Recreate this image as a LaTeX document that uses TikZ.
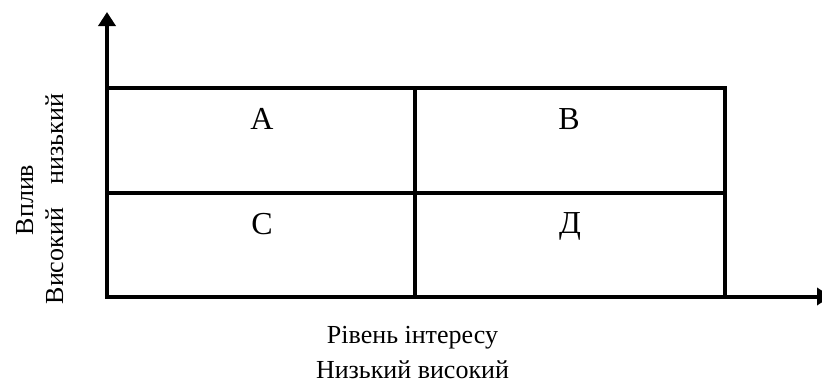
\documentclass[tikz,border=0pt]{standalone}
\usepackage{fontspec}
\setmainfont{Liberation Serif}
\usetikzlibrary{arrows.meta}
\begin{document}
\begin{tikzpicture}[x=1pt,y=-1pt,
  axis/.style={line width=4pt,-{Triangle[width=17pt,length=14pt]}},
  gridline/.style={line width=4pt},
  cell/.style={font=\fontsize{32}{38}\selectfont, anchor=base, inner sep=0pt},
  lab/.style={font=\fontsize{26}{31}\selectfont, anchor=base, inner sep=0pt}]
\useasboundingbox (0,0) rectangle (822,383);
\coordinate (O) at (107,296.5);
\coordinate (ytip) at (107,12);
\coordinate (xtip) at (831,296.5);
\coordinate (tl) at (107,88);
\coordinate (br) at (725,296.5);
\coordinate (ml) at (107,192.5);
\coordinate (mr) at (725,192.5);
\coordinate (mt) at (415,88);
\coordinate (mb) at (415,296.5);
% grid
\draw[gridline] (tl) rectangle (br);
\draw[gridline] (ml) -- (mr);
\draw[gridline] (mt) -- (mb);
% axes
\draw[axis] (O) -- (ytip);
\draw[axis] (O) -- (xtip);
% cell labels
\node[cell] (A) at (262,129) {A};
\node[cell] (B) at (569,129) {B};
\node[cell] (C) at (262,234) {C};
\node[cell] (D) at (570,233) {Д};
% axis labels
\node[lab] (xl1) at (412.5,343) {Рівень інтересу};
\node[lab] (xl2) at (412.5,378) {Низький високий};
\node[lab,rotate=90] (yl1) at (33,200) {Вплив};
\node[lab,rotate=90] (yl2) at (63,199) {Високий\hspace{24pt}низький};
\end{tikzpicture}
\end{document}
